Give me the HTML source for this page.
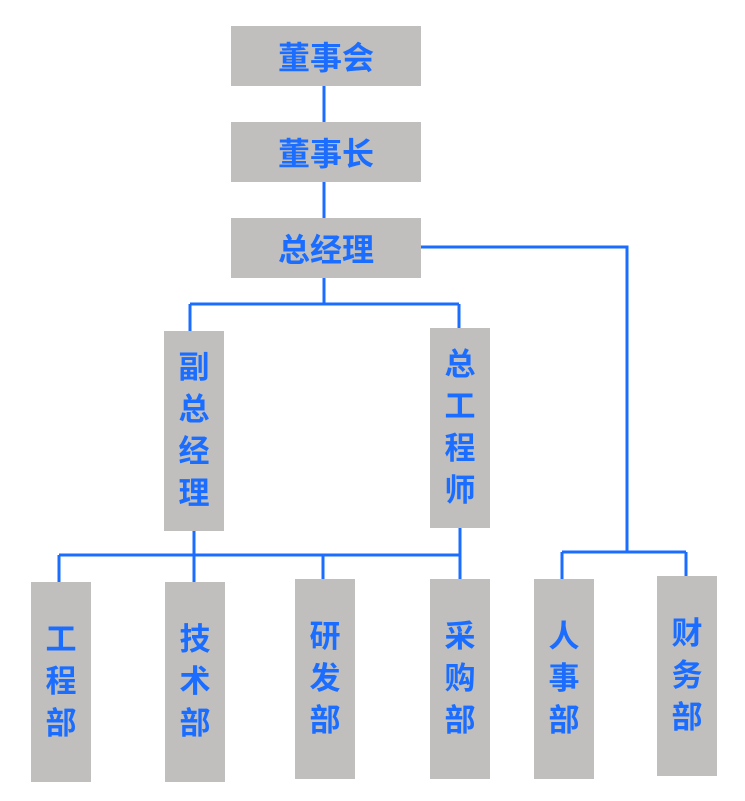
<!DOCTYPE html>
<html><head><meta charset="utf-8"><style>
body{margin:0;width:745px;height:801px;background:#fff;position:relative;overflow:hidden;font-family:"Liberation Sans","Noto Sans CJK SC",sans-serif}
.b{position:absolute;background:#c0bfbd;color:#1a6dff;font-weight:bold;display:flex;align-items:center;justify-content:center;font-size:32px}
.v{flex-direction:column;line-height:42px;font-size:31px}
svg{position:absolute;left:0;top:0}
</style></head><body>
<svg width="745" height="801"><g stroke="#1a6dff" stroke-width="3" fill="none">
<path d="M324 86V122M324 182V218M324 278V304M190 304H459M190 304V331M459 304V328"/>
<path d="M421 247H627V552M562 552H686M562 552V579M686 552V576"/>
<path d="M59 555H460M194 531V582M460 528V579M59 555V582M323 555V579"/>
</g></svg>
<div class="b" style="left:231px;top:26px;width:190px;height:60px">董事会</div>
<div class="b" style="left:231px;top:122px;width:190px;height:60px">董事长</div>
<div class="b" style="left:231px;top:218px;width:190px;height:60px">总经理</div>
<div class="b v" style="left:164px;top:331px;width:60px;height:200px"><span>副</span><span>总</span><span>经</span><span>理</span></div>
<div class="b v" style="left:430px;top:328px;width:60px;height:200px"><span>总</span><span>工</span><span>程</span><span>师</span></div>
<div class="b v" style="left:31px;top:582px;width:60px;height:200px"><span>工</span><span>程</span><span>部</span></div>
<div class="b v" style="left:165px;top:582px;width:60px;height:200px"><span>技</span><span>术</span><span>部</span></div>
<div class="b v" style="left:295px;top:579px;width:60px;height:200px"><span>研</span><span>发</span><span>部</span></div>
<div class="b v" style="left:430px;top:579px;width:60px;height:200px"><span>采</span><span>购</span><span>部</span></div>
<div class="b v" style="left:534px;top:579px;width:60px;height:200px"><span>人</span><span>事</span><span>部</span></div>
<div class="b v" style="left:657px;top:576px;width:60px;height:200px"><span>财</span><span>务</span><span>部</span></div>
</body></html>
